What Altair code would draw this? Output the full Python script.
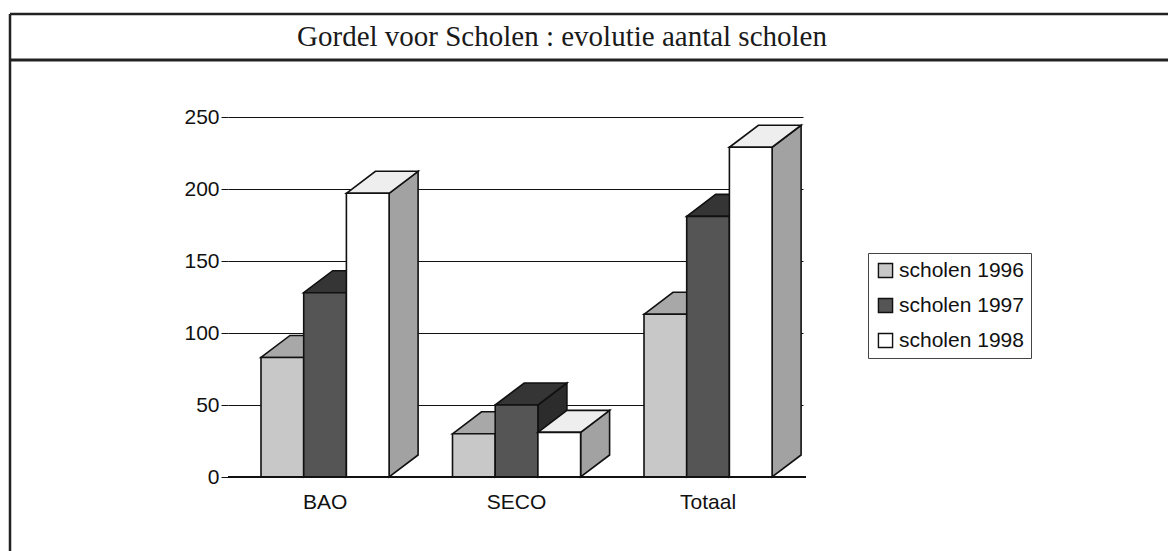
import altair as alt
import pandas as pd

# Number of schools per category and school year
categories = ["BAO", "SECO", "Totaal"]
series = ["scholen 1996", "scholen 1997", "scholen 1998"]
scholen_1996 = [83, 30, 113]
scholen_1997 = [128, 50, 181]
scholen_1998 = [197, 31, 229]
y_ticks = [0, 50, 100, 150, 200, 250]
title_text = "Gordel voor Scholen : evolutie aantal scholen"

values = [scholen_1996, scholen_1997, scholen_1998]

# Plot geometry in pixels; the x scale is an identity pixel scale
W, H = 575, 360
Y_MAX = 250
BAND = 191.5
LEAD = 33
BAR_W = 42.7
DEPTH_X = 29
DEPTH_Y = 22 * Y_MAX / H  # depth of the 3D block in value units

front_fill = ["#c8c8c8", "#555555", "#ffffff"]
top_fill = ["#a8a8a8", "#353535", "#eeeeee"]
side_fill = ["#9a9a9a", "#2c2c2c", "#a2a2a2"]

INK = "#111111"
EDGE = 1.6

xs = alt.Scale(domain=[0, W], nice=False, zero=False)
ys = alt.Scale(domain=[0, Y_MAX], nice=False)
y_axis = alt.Axis(
    values=y_ticks, grid=True, gridColor=INK, gridWidth=1,
    domain=False, ticks=True, tickSize=7, tickColor=INK,
    labelFont="Liberation Sans", labelFontSize=21, labelColor=INK,
    labelPadding=2, title=None,
)


def front_frame(j):
    rows = []
    for i, cat in enumerate(categories):
        x0 = BAND * i + LEAD + j * BAR_W
        rows.append({"cat": cat, "series": series[j], "x0": x0,
                     "x1": x0 + BAR_W, "v": values[j][i], "base": 0})
    return pd.DataFrame(rows)


def side_frame(j):
    rows = []
    for i, cat in enumerate(categories):
        x1 = BAND * i + LEAD + (j + 1) * BAR_W
        v = values[j][i]
        rows.append({"key": cat, "x": x1, "hi": v, "lo": 0})
        rows.append({"key": cat, "x": x1 + DEPTH_X, "hi": v + DEPTH_Y, "lo": DEPTH_Y})
    return pd.DataFrame(rows)


def top_frame(j):
    rows = []
    for i, cat in enumerate(categories):
        x0 = BAND * i + LEAD + j * BAR_W
        x1 = x0 + BAR_W
        v = values[j][i]
        rows.append({"key": cat, "x": x0, "hi": v, "lo": v})
        rows.append({"key": cat, "x": x0 + DEPTH_X, "hi": v + DEPTH_Y, "lo": v})
        rows.append({"key": cat, "x": x1, "hi": v + DEPTH_Y, "lo": v})
        rows.append({"key": cat, "x": x1 + DEPTH_X, "hi": v + DEPTH_Y, "lo": v + DEPTH_Y})
    return pd.DataFrame(rows)


def face(df, fill):
    return alt.Chart(df).mark_area(
        fill=fill, stroke=INK, strokeWidth=EDGE, opacity=1
    ).encode(
        x=alt.X("x:Q", scale=xs, axis=None),
        y=alt.Y("hi:Q", scale=ys, axis=y_axis),
        y2="lo:Q",
        detail="key:N",
    )


legend = alt.Legend(
    title=None, orient="none", legendX=640, legendY=136,
    symbolType="square", symbolSize=200, symbolStrokeColor=INK,
    symbolStrokeWidth=1.4, labelFont="Liberation Sans", labelFontSize=21,
    labelColor=INK, labelOffset=3, rowPadding=13, padding=7,
    strokeColor="#444444", fillColor="white",
)

layers = []
for j in range(len(series)):
    layers.append(face(side_frame(j), side_fill[j]))
    layers.append(face(top_frame(j), top_fill[j]))
    layers.append(
        alt.Chart(front_frame(j)).mark_rect(stroke=INK, strokeWidth=EDGE).encode(
            x=alt.X("x0:Q", scale=xs, axis=None),
            x2="x1:Q",
            y=alt.Y("v:Q", scale=ys, axis=y_axis),
            y2="base:Q",
            color=alt.Color("series:N", scale=alt.Scale(domain=series, range=front_fill),
                            legend=legend),
        )
    )

# Floor line at zero
floor = alt.Chart(pd.DataFrame({"y": [0]})).mark_rule(
    color=INK, strokeWidth=2
).encode(y=alt.Y("y:Q", scale=ys, axis=y_axis), x=alt.value(0), x2=alt.value(W + 3))

# Category labels under each group of bars
label_df = pd.DataFrame({
    "cat": categories,
    "xc": [BAND * i + LEAD + 1.5 * BAR_W for i in range(len(categories))],
})
cat_labels = alt.Chart(label_df).mark_text(
    font="Liberation Sans", fontSize=21, color=INK, baseline="middle"
).encode(x=alt.X("xc:Q", scale=xs, axis=None), y=alt.value(H + 26), text="cat:N")

# Title bar with frame lines
title = alt.Chart(pd.DataFrame({"t": [title_text]})).mark_text(
    font="Liberation Serif", fontSize=29, color="#1a1a1a", baseline="middle", align="center"
).encode(x=alt.value(334), y=alt.value(-80), text="t:N")
frame_top = alt.Chart(pd.DataFrame({"a": [0]})).mark_rule(color="#222222", strokeWidth=2.5).encode(
    x=alt.value(-218), x2=alt.value(950), y=alt.value(-103))
frame_mid = alt.Chart(pd.DataFrame({"a": [0]})).mark_rule(color="#222222", strokeWidth=3).encode(
    x=alt.value(-218), x2=alt.value(950), y=alt.value(-57))
frame_left = alt.Chart(pd.DataFrame({"a": [0]})).mark_rule(color="#222222", strokeWidth=2.5).encode(
    x=alt.value(-218), y=alt.value(-103), y2=alt.value(440))

chart = alt.layer(
    *layers, floor, cat_labels, title, frame_top, frame_mid, frame_left
).properties(
    width=W, height=H,
    padding={"left": 228, "top": 117, "right": 365, "bottom": 74},
    autosize="none",
    background="white",
).configure_view(stroke=None)

chart.save("out.html", embed_options={"renderer": "svg", "actions": False})
